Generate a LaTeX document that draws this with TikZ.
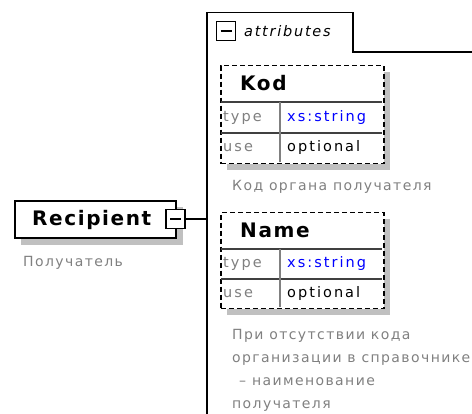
\documentclass[tikz,border=0pt]{standalone}
\usepackage{fontspec}
\setmainfont{DejaVu Sans}
\newfontfamily\capfont[LetterSpace=10]{DejaVu Sans}
\newfontfamily\lblfont[LetterSpace=14]{DejaVu Sans}
\newfontfamily\hdfont[LetterSpace=8]{DejaVu Sans}
\newfontfamily\tabfont[LetterSpace=12]{DejaVu Sans}
\definecolor{shadowgray}{HTML}{C0C0C0}
\definecolor{capgray}{HTML}{808080}
\definecolor{xsblue}{HTML}{0000FF}
\definecolor{linegray}{HTML}{404040}
\begin{document}
\begin{tikzpicture}[x=1pt,y=-1pt,
  shadowbox/.style={fill=shadowgray,draw=none},
  recbox/.style={draw=black,line width=1.6pt,fill=white,inner sep=0pt,minimum width=161pt,minimum height=37pt},
  minusbox/.style={draw=black,line width=1.3pt,fill=white,inner sep=0pt,minimum size=19pt,
    path picture={\draw[line width=1.3pt] ([xshift=4pt]path picture bounding box.west) -- ([xshift=-4pt]path picture bounding box.east);}},
  attrbox/.style={draw=black,line width=1.5pt,dash pattern=on 5pt off 3pt,fill=white,inner sep=0pt,minimum width=163pt},
  hline/.style={draw=linegray,line width=1.2pt},
  vline/.style={draw=capgray,line width=1.2pt},
  tabline/.style={draw=black,line width=1.5pt},
  conn/.style={draw=black,line width=1.3pt},
  bigbold/.style={font=\hdfont\bfseries\fontsize{20}{23}\selectfont,inner sep=0pt,anchor=base west},
  lbl/.style={font=\lblfont\fontsize{14.5}{17}\selectfont,inner sep=0pt,anchor=west},
  caption/.style={font=\capfont\fontsize{14}{23}\selectfont,text=capgray,inner sep=0pt,align=left}
]
\useasboundingbox (0,0) rectangle (472,414);

% attributes tab
\draw[tabline] (207,414) -- (207,12.5) -- (353,12.5) -- (353,52) -- (472,52);
\coordinate (tabL) at (207,219);
\node[minusbox] (tm) at (226,31) {};
\node[font=\tabfont\itshape\fontsize{14.5}{17}\selectfont,inner sep=0pt,anchor=west] (attrlbl) at (244,31) {attributes};

% Recipient
\fill[shadowbox] (21,207) rectangle (183,245);
\node[recbox,anchor=north west] (rec) at (14,200) {};
\node[bigbold] (reclbl) at (32,226) {Recipient};
\node[minusbox] (rm) at (175.5,219) {};
\draw[conn] (rm.east) -- (tabL);
\node[caption,anchor=west] (reccap) at (23,263) {Получатель};

% Kod
\fill[shadowbox] (227,72) rectangle (390,170);
\node[attrbox,minimum height=98pt,anchor=north west] (kod) at (220,65) {};
\draw[hline] (220.75,102) -- (382.25,102);
\draw[hline] (220.75,133) -- (382.25,133);
\draw[vline] (280,102) -- (280,162.25);
\node[bigbold] (kodlbl) at (240,91) {Kod};
\node[lbl,text=capgray] (kodtype) at (223,117.5) {type};
\node[lbl,text=xsblue] (kodtypev) at (287,117.5) {xs:string};
\node[lbl,text=capgray] (koduse) at (223,148) {use};
\node[lbl,text=black] (kodusev) at (287,148) {optional};
\node[caption,anchor=west] (kodcap) at (232,187) {Код органа получателя};

% Name
\fill[shadowbox] (227,219) rectangle (390,315);
\node[attrbox,minimum height=96pt,anchor=north west] (name) at (220,212) {};
\draw[hline] (220.75,249) -- (382.25,249);
\draw[hline] (220.75,279) -- (382.25,279);
\draw[vline] (280,249) -- (280,307.25);
\node[bigbold] (namelbl) at (240,238) {Name};
\node[lbl,text=capgray] (nametype) at (223,264) {type};
\node[lbl,text=xsblue] (nametypev) at (287,264) {xs:string};
\node[lbl,text=capgray] (nameuse) at (223,293.5) {use};
\node[lbl,text=black] (nameusev) at (287,293.5) {optional};
\node[caption,anchor=north west] (namecap) at (232,329) {При отсутствии кода\\организации в справочнике\\\hspace*{7pt}– наименование\\получателя};
\end{tikzpicture}
\end{document}
